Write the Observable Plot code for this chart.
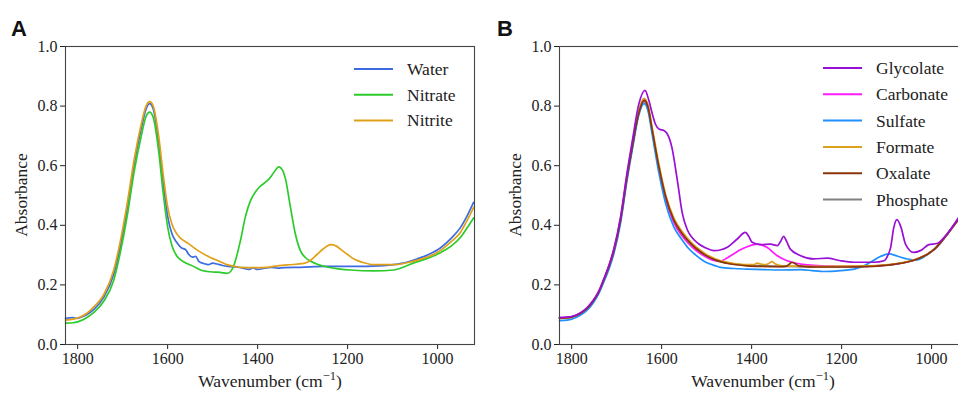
<!DOCTYPE html>
<html>
<head>
<meta charset="utf-8">
<script src="https://cdn.jsdelivr.net/npm/d3@7"></script>
<script src="https://cdn.jsdelivr.net/npm/@observablehq/plot@0.6"></script>
<style>
  html, body { margin: 0; padding: 0; background: #fff; }
  #wrap { position: relative; width: 958px; height: 394px; overflow: hidden; background: #fff; }
  #wrap svg { position: absolute; top: 0; }
  #wrap svg text { font-family: "Liberation Serif", "DejaVu Serif", serif !important; }
  #wrap svg text.letter { font-family: "Liberation Sans", "DejaVu Sans", sans-serif !important; }
</style>
</head>
<body>
<div id="wrap"></div>
<script>
// ---------- data (wavenumber cm^-1, absorbance) ----------
const xTicks = [1800, 1600, 1400, 1200, 1000];
const yTicks = [0, 0.2, 0.4, 0.6, 0.8, 1.0];

const water = [[1827,0.088],[1812,0.09],[1800,0.088],[1790,0.093],[1780,0.1],[1764,0.118],[1742,0.158],[1720,0.235],[1705,0.33],[1690,0.455],[1675,0.6],[1660,0.715],[1648,0.79],[1640,0.808],[1632,0.79],[1620,0.68],[1610,0.545],[1600,0.43],[1590,0.37],[1580,0.343],[1570,0.325],[1560,0.318],[1553,0.302],[1545,0.293],[1538,0.296],[1530,0.278],[1520,0.272],[1510,0.268],[1500,0.273],[1490,0.27],[1480,0.266],[1465,0.262],[1450,0.26],[1432,0.256],[1420,0.252],[1410,0.257],[1400,0.252],[1385,0.256],[1370,0.259],[1355,0.256],[1340,0.258],[1305,0.259],[1250,0.262],[1194,0.262],[1120,0.265],[1080,0.272],[1046,0.287],[1020,0.302],[994,0.324],[970,0.356],[949,0.393],[935,0.43],[920,0.477]];
const nitrate = [[1827,0.072],[1810,0.073],[1800,0.076],[1780,0.09],[1764,0.108],[1742,0.145],[1720,0.215],[1705,0.31],[1690,0.43],[1675,0.575],[1660,0.69],[1648,0.765],[1640,0.78],[1632,0.762],[1620,0.65],[1610,0.51],[1600,0.395],[1590,0.33],[1580,0.298],[1570,0.283],[1555,0.27],[1542,0.262],[1527,0.25],[1512,0.245],[1497,0.243],[1483,0.242],[1468,0.239],[1460,0.245],[1453,0.265],[1438,0.35],[1427,0.43],[1416,0.482],[1405,0.512],[1397,0.527],[1385,0.542],[1375,0.555],[1364,0.577],[1353,0.596],[1345,0.586],[1338,0.555],[1327,0.46],[1316,0.37],[1305,0.315],[1294,0.292],[1283,0.28],[1265,0.268],[1246,0.26],[1220,0.254],[1194,0.25],[1142,0.247],[1097,0.25],[1075,0.26],[1053,0.274],[1020,0.29],[994,0.308],[970,0.33],[949,0.36],[935,0.39],[920,0.425]];
const nitrite = [[1827,0.082],[1810,0.085],[1800,0.089],[1780,0.104],[1764,0.126],[1742,0.167],[1720,0.248],[1705,0.348],[1690,0.472],[1675,0.615],[1660,0.73],[1648,0.8],[1640,0.815],[1632,0.8],[1620,0.7],[1610,0.572],[1600,0.462],[1590,0.402],[1580,0.372],[1571,0.356],[1555,0.34],[1542,0.325],[1527,0.31],[1505,0.292],[1483,0.278],[1468,0.268],[1450,0.262],[1438,0.259],[1400,0.258],[1379,0.259],[1360,0.263],[1334,0.267],[1297,0.272],[1283,0.282],[1268,0.302],[1253,0.322],[1238,0.335],[1226,0.331],[1216,0.32],[1200,0.302],[1186,0.287],[1165,0.275],[1142,0.268],[1097,0.268],[1053,0.28],[1020,0.295],[994,0.315],[970,0.345],[949,0.377],[935,0.415],[920,0.46]];

const glycolate = [[1827,0.09],[1810,0.092],[1800,0.094],[1780,0.107],[1765,0.125],[1751,0.15],[1740,0.178],[1729,0.218],[1715,0.275],[1706,0.322],[1691,0.43],[1677,0.575],[1665,0.685],[1651,0.805],[1637,0.853],[1628,0.817],[1621,0.775],[1614,0.74],[1605,0.722],[1595,0.718],[1588,0.708],[1577,0.66],[1565,0.55],[1554,0.44],[1543,0.385],[1532,0.358],[1518,0.338],[1503,0.325],[1484,0.315],[1468,0.318],[1454,0.326],[1432,0.354],[1414,0.376],[1406,0.362],[1399,0.343],[1380,0.335],[1358,0.337],[1343,0.332],[1336,0.345],[1329,0.363],[1322,0.345],[1314,0.32],[1291,0.298],[1262,0.287],[1232,0.29],[1203,0.281],[1173,0.276],[1128,0.276],[1106,0.281],[1097,0.3],[1091,0.326],[1084,0.393],[1077,0.419],[1068,0.393],[1058,0.337],[1040,0.309],[1025,0.315],[1006,0.335],[988,0.339],[966,0.371],[940,0.426],[918,0.48]];
const carbonate = [[1827,0.09],[1810,0.091],[1800,0.093],[1780,0.106],[1765,0.123],[1751,0.149],[1740,0.176],[1729,0.216],[1715,0.272],[1706,0.317],[1691,0.422],[1677,0.562],[1665,0.667],[1651,0.777],[1639,0.818],[1630,0.793],[1621,0.718],[1606,0.592],[1591,0.49],[1573,0.41],[1554,0.363],[1540,0.338],[1524,0.316],[1503,0.295],[1485,0.282],[1469,0.28],[1455,0.29],[1440,0.304],[1425,0.318],[1410,0.328],[1388,0.337],[1366,0.326],[1343,0.298],[1321,0.281],[1291,0.27],[1262,0.266],[1220,0.263],[1188,0.262],[1150,0.262],[1114,0.265],[1080,0.27],[1054,0.277],[1030,0.288],[1010,0.302],[995,0.318],[980,0.342],[965,0.37],[950,0.4],[940,0.42],[918,0.47]];
const sulfate = [[1827,0.08],[1810,0.082],[1800,0.085],[1780,0.099],[1765,0.116],[1751,0.142],[1740,0.17],[1729,0.208],[1715,0.262],[1706,0.306],[1691,0.41],[1677,0.55],[1665,0.655],[1651,0.768],[1639,0.808],[1630,0.782],[1621,0.705],[1606,0.575],[1591,0.472],[1573,0.395],[1554,0.35],[1540,0.322],[1524,0.3],[1503,0.277],[1480,0.264],[1469,0.259],[1440,0.255],[1410,0.253],[1370,0.251],[1336,0.25],[1291,0.251],[1265,0.248],[1240,0.245],[1203,0.248],[1170,0.254],[1158,0.259],[1136,0.276],[1114,0.295],[1095,0.304],[1077,0.297],[1054,0.287],[1032,0.284],[1010,0.302],[995,0.318],[980,0.342],[965,0.37],[950,0.4],[940,0.42],[918,0.47]];
const formate = [[1827,0.087],[1810,0.089],[1800,0.092],[1780,0.106],[1765,0.124],[1751,0.15],[1740,0.178],[1729,0.218],[1715,0.274],[1706,0.32],[1691,0.428],[1677,0.57],[1665,0.675],[1651,0.785],[1639,0.826],[1630,0.802],[1621,0.728],[1606,0.604],[1591,0.503],[1573,0.425],[1554,0.378],[1540,0.352],[1524,0.328],[1503,0.305],[1480,0.287],[1450,0.275],[1410,0.268],[1395,0.268],[1388,0.273],[1380,0.27],[1370,0.268],[1362,0.272],[1355,0.278],[1347,0.27],[1336,0.265],[1300,0.263],[1250,0.262],[1188,0.263],[1150,0.264],[1114,0.266],[1080,0.271],[1054,0.278],[1030,0.289],[1010,0.303],[995,0.319],[980,0.343],[965,0.371],[950,0.401],[940,0.421],[918,0.47]];
const oxalate = [[1827,0.088],[1810,0.09],[1800,0.092],[1780,0.105],[1765,0.122],[1751,0.148],[1740,0.175],[1729,0.215],[1715,0.27],[1706,0.315],[1691,0.42],[1677,0.56],[1665,0.665],[1651,0.775],[1639,0.82],[1630,0.795],[1621,0.72],[1606,0.596],[1591,0.496],[1573,0.418],[1554,0.372],[1540,0.346],[1524,0.323],[1503,0.3],[1480,0.283],[1450,0.271],[1410,0.264],[1380,0.262],[1336,0.261],[1322,0.263],[1315,0.271],[1310,0.276],[1303,0.271],[1295,0.264],[1250,0.26],[1188,0.26],[1150,0.261],[1114,0.264],[1080,0.27],[1054,0.277],[1030,0.288],[1010,0.302],[995,0.318],[980,0.342],[965,0.37],[950,0.4],[940,0.42],[918,0.47]];
const phosphate = [[1827,0.088],[1810,0.09],[1800,0.092],[1780,0.105],[1765,0.122],[1751,0.148],[1740,0.175],[1729,0.215],[1715,0.27],[1706,0.315],[1691,0.42],[1677,0.56],[1665,0.665],[1651,0.775],[1639,0.815],[1630,0.79],[1621,0.715],[1606,0.59],[1591,0.49],[1573,0.415],[1554,0.37],[1540,0.345],[1524,0.322],[1503,0.3],[1480,0.283],[1450,0.272],[1410,0.266],[1380,0.264],[1336,0.262],[1300,0.261],[1250,0.26],[1188,0.261],[1150,0.262],[1114,0.265],[1080,0.27],[1054,0.277],[1030,0.288],[1010,0.302],[995,0.318],[980,0.342],[965,0.37],[950,0.4],[940,0.42],[918,0.47]];

const seriesA = [
  {name: "Water", color: "#3d6be0", data: water},
  {name: "Nitrate", color: "#2ccb2c", data: nitrate},
  {name: "Nitrite", color: "#e0a018", data: nitrite}
];
const seriesB = [
  {name: "Glycolate", color: "#9a0fd6", data: glycolate},
  {name: "Carbonate", color: "#ff1aff", data: carbonate},
  {name: "Sulfate", color: "#1e90ff", data: sulfate},
  {name: "Formate", color: "#dca21c", data: formate},
  {name: "Oxalate", color: "#8b3508", data: oxalate},
  {name: "Phosphate", color: "#808080", data: phosphate}
];
const drawOrderB = ["Phosphate", "Carbonate", "Sulfate", "Formate", "Oxalate", "Glycolate"];

// ---------- drawing ----------
const serif = "Liberation Serif, DejaVu Serif, serif";
const wrap = document.getElementById("wrap");

function panel({series, order, left, width, marginLeft, marginRight, letter, legend, ylabX, xlabX}) {
  const ordered = order ? order.map(n => series.find(s => s.name === n)) : series;
  const chart = Plot.plot({
    width, height: 394,
    marginLeft, marginRight, marginTop: 46, marginBottom: 50,
    style: {fontFamily: serif, fontSize: "16px", color: "#222", background: "white", overflow: "visible"},
    x: {domain: [1827, 918], ticks: xTicks, tickFormat: d => String(d), tickSize: 5, tickPadding: 3, label: null},
    y: {domain: [0, 1], ticks: yTicks, tickFormat: d3.format(".1f"), tickSize: 5, tickPadding: 3, label: null},
    marks: [
      ...ordered.map(s => Plot.line(s.data, {x: d => d[0], y: d => d[1], stroke: s.color, strokeWidth: 1.7, curve: "monotone-x"})),
      Plot.frame({stroke: "#444", strokeWidth: 1.1})
    ]
  });
  chart.style.left = left + "px";
  wrap.appendChild(chart);
  const svg = d3.select(chart);
  // panel letter
  svg.append("text").attr("class", "letter").attr("x", letter === "A" ? 11 : 17).attr("y", 36)
    .attr("text-anchor", "start").attr("font-weight", "bold")
    .attr("font-size", 22).attr("fill", "#111").text(letter);
  // x label
  const xl = svg.append("text").attr("x", xlabX - left).attr("y", 387)
    .attr("text-anchor", "middle").attr("font-size", 17.5).attr("fill", "#222");
  xl.append("tspan").text("Wavenumber (cm");
  xl.append("tspan").attr("font-size", 12.5).attr("dy", -7).text("\u22121");
  xl.append("tspan").attr("dy", 7).text(")");
  // y label
  svg.append("text").attr("transform", `translate(${ylabX - left},195) rotate(-90)`)
    .attr("text-anchor", "middle").attr("font-size", 17.5).attr("fill", "#222").text("Absorbance");
  // legend
  series.forEach((s, i) => {
    const y = legend.y0 + i * legend.dy;
    svg.append("line").attr("x1", legend.x - left).attr("x2", legend.x - left + 39).attr("y1", y).attr("y2", y)
      .attr("stroke", s.color).attr("stroke-width", 2);
    svg.append("text").attr("x", legend.x - left + 53).attr("y", y + 6).attr("text-anchor", "start")
      .attr("font-size", 17.5).attr("fill", "#222").text(s.name);
  });
}

panel({series: seriesA, left: 0, width: 480, marginLeft: 65, marginRight: 6, letter: "A",
       legend: {x: 354, y0: 69, dy: 25.7}, ylabX: 27, xlabX: 270});
panel({series: seriesB, order: drawOrderB, left: 480, width: 500, marginLeft: 79, marginRight: 12, letter: "B",
       legend: {x: 823, y0: 68, dy: 26.3}, ylabX: 521, xlabX: 763});
</script>
</body>
</html>
